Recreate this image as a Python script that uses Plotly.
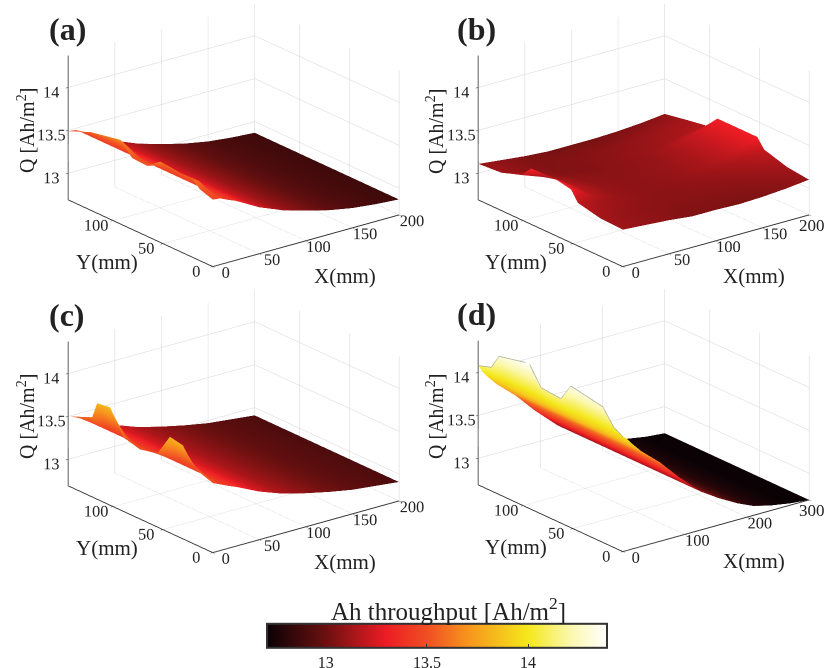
import plotly.graph_objects as go

# ---- data ----
x_abc = [0, 8, 16, 25, 50, 75, 100, 125, 150, 175, 200]
x_d = [0, 8, 16, 30, 60, 90, 127, 155, 185, 210, 237, 270, 300]

y_a = [0, 13, 21, 40, 53, 66, 81, 93, 123, 145]
edge_a = [13.47, 13.52, 13.61, 13.60, 13.63, 13.51, 13.52, 13.67, 13.60, 13.49]
mid_a = [13.46, 13.50, 13.55, 13.54, 13.56, 13.49, 13.50, 13.57, 13.54, 13.48]
tail_a = [13.42, 13.38, 13.23, 13.12, 13.04, 12.97, 12.92, 12.89, 12.87]

y_c = [0, 13, 23, 30, 43, 55, 73, 90, 96, 103, 116, 121, 145]
edge_c = [13.50, 13.55, 13.64, 13.78, 13.81, 13.56, 13.50, 13.55, 13.69, 13.83, 13.81, 13.62, 13.50]
mid_c = [13.46, 13.48, 13.52, 13.58, 13.60, 13.49, 13.46, 13.48, 13.54, 13.60, 13.58, 13.50, 13.47]
tail_c = [13.42, 13.38, 13.25, 13.15, 13.08, 13.02, 12.97, 12.94, 12.91]

y_d = [0, 9, 20, 52, 62, 82, 94, 124, 132, 145]
edge_d = [14.03, 14.09, 14.27, 14.34, 14.14, 14.16, 14.38, 14.30, 14.13, 14.08]
mid_d = [13.98, 14.00, 14.03, 14.05, 14.00, 14.00, 14.06, 14.04, 14.00, 13.98]
tail_d = [13.91, 13.80, 13.61, 13.38, 13.13, 13.00, 12.88, 12.80, 12.75, 12.71, 12.69]

x_b = [0, 25, 50, 75, 100, 125, 150, 175, 200]
y_b = [0, 22, 45, 52, 69, 92, 102, 122, 145]
q_b = [
    [13.12, 13.10, 13.08, 13.05, 13.05, 13.04, 13.05, 13.07, 13.10],
    [13.13, 13.10, 13.08, 13.07, 13.07, 13.07, 13.08, 13.10, 13.13],
    [13.19, 13.13, 13.10, 13.08, 13.08, 13.10, 13.12, 13.16, 13.21],
    [13.31, 13.16, 13.10, 13.08, 13.09, 13.11, 13.15, 13.22, 13.32],
    [13.35, 13.17, 13.10, 13.08, 13.09, 13.11, 13.15, 13.22, 13.32],
    [13.34, 13.14, 13.08, 13.07, 13.08, 13.10, 13.15, 13.22, 13.32],
    [13.21, 13.11, 13.06, 13.06, 13.08, 13.10, 13.12, 13.15, 13.18],
    [13.13, 13.08, 13.05, 13.06, 13.07, 13.08, 13.10, 13.12, 13.14],
    [13.11, 13.08, 13.05, 13.03, 13.03, 13.03, 13.04, 13.06, 13.09],
]

q_a = [[e, m] + tail_a for e, m in zip(edge_a, mid_a)]
q_c = [[e, m] + tail_c for e, m in zip(edge_c, mid_c)]
q_d = [[e, m] + tail_d for e, m in zip(edge_d, mid_d)]

ticks_xy_abc = [0, 50, 100, 150, 200]
ticks_x_d = [0, 100, 200, 300]
ticks_y = [0, 50, 100]
ticks_z = [13, 13.5, 14]
ticks_bar = [13, 13.5, 14]
panel_letters = ["(a)", "(b)", "(c)", "(d)"]

# ---- styling ----
W, H = 825, 668
SERIF = "Liberation Serif"
INK = "#222222"
colors = [
    [0.0, "#0a0205"], [0.173, "#6b1010"], [0.351, "#ed1c24"], [0.47, "#f04e23"],
    [0.59, "#f7941d"], [0.768, "#f4e81b"], [0.887, "#fbf7a8"], [1.0, "#ffffff"],
]
LIGHT = dict(ambient=1, diffuse=0, specular=0, roughness=1, fresnel=0)
R = 3.0
SCALE = 1.615
VIEW = (-0.572 * R, -0.738 * R, 0.358 * R)
SHIFT = (-0.0767, 0.0263, -0.0685)


def domain(px0, py0, px1, py1):
    return dict(x=[px0 / W, px1 / W], y=[1 - py1 / H, 1 - py0 / H])


def axis(rng, vals, hide_last=False):
    text = [str(v) for v in vals]
    if hide_last:
        text[-1] = " "
    return dict(
        range=rng, tickvals=vals, ticktext=text, title=dict(text=""),
        showbackground=False, showgrid=True, gridcolor="#d4d4d4", gridwidth=1,
        showline=True, linecolor="#333333", linewidth=2, ticks="outside", ticklen=3,
        tickcolor="#333333", tickfont=dict(family=SERIF, size=14, color=INK), tickangle=0,
        zeroline=False, showspikes=False,
    )


# px origin of each 3D box and the px window of its scene
origins = [(213, 267), (622, 267), (213, 553), (622, 552)]
windows = [(0, 0, 445, 292), (440, 0, 825, 292), (0, 286, 445, 578), (440, 285, 825, 577)]
panels = [
    (x_abc, y_a, q_a, 200, ticks_xy_abc, False),
    (x_b, y_b, q_b, 200, ticks_xy_abc, True),
    (x_abc, y_c, q_c, 200, ticks_xy_abc, False),
    (x_d, y_d, q_d, 300, ticks_x_d, True),
]

fig = go.Figure()
layout = {}
anns = []
for i, ((xs, ys, qs, xmax, xt, hide), (ox, oy), win) in enumerate(zip(panels, origins, windows)):
    name = "scene" if i == 0 else f"scene{i + 1}"
    fig.add_trace(go.Surface(x=xs, y=ys, z=qs, coloraxis="coloraxis", lighting=LIGHT,
                             hoverinfo="skip", scene=name))
    layout[name] = dict(
        domain=domain(*win),
        xaxis=axis([0, xmax], xt, hide), yaxis=axis([0, 145], ticks_y), zaxis=axis([12.69, 14.37], ticks_z),
        aspectmode="manual", aspectratio=dict(x=SCALE, y=SCALE, z=0.655 * SCALE),
        camera=dict(eye=dict(x=VIEW[0] + SHIFT[0], y=VIEW[1] + SHIFT[1], z=VIEW[2] + SHIFT[2]),
                    up=dict(x=0, y=0, z=1),
                    center=dict(x=SHIFT[0], y=SHIFT[1], z=SHIFT[2]),
                    projection=dict(type="orthographic")),
        bgcolor="rgba(0,0,0,0)",
    )
    common = dict(showarrow=False, xanchor="center", yanchor="middle")
    anns += [
        dict(x=(ox - 146) / W, y=1 - (oy - 238) / H, text=f"<b>{panel_letters[i]}</b>",
             font=dict(family=SERIF, size=32, color="#222222"), **common),
        dict(x=(ox - 187) / W, y=1 - (oy - 136) / H, text="Q [Ah/m<sup>2</sup>]", textangle=-90,
             font=dict(family=SERIF, size=20, color=INK), **common),
        dict(x=(ox + 132) / W, y=1 - (oy + 9) / H, text="X(mm)",
             font=dict(family=SERIF, size=21, color=INK), **common),
        dict(x=(ox - 106) / W, y=1 - (oy - 5) / H, text="Y(mm)",
             font=dict(family=SERIF, size=21, color=INK), **common),
    ]
    if hide:  # the last X label would be cut by the window edge if drawn by the scene
        anns.append(dict(x=(ox + 190) / W, y=1 - (oy - 41) / H, text=str(xt[-1]),
                         font=dict(family=SERIF, size=17, color=INK), **common))

fig.add_trace(go.Scatter3d(x=[0] * len(y_d), y=y_d, z=edge_d, mode="lines",
                           line=dict(color="#a8a890", width=1.5), hoverinfo="skip", scene="scene4"))

anns.append(dict(x=448 / W, y=1 - 609 / H, text="Ah throughput [Ah/m<sup>2</sup>]",
                 font=dict(family=SERIF, size=25, color=INK), showarrow=False,
                 xanchor="center", yanchor="middle"))

fig.update_layout(
    width=W, height=H, margin=dict(l=0, r=0, t=0, b=0, autoexpand=False), paper_bgcolor="white",
    showlegend=False, annotations=anns,
    coloraxis=dict(
        cmin=12.71, cmax=14.39, colorscale=colors,
        colorbar=dict(
            orientation="h", x=437 / W, xanchor="center", y=-0.0135, yanchor="bottom", ypad=0, xpad=0,
            len=340, lenmode="pixels", thickness=24, thicknessmode="pixels",
            tickvals=ticks_bar, ticktext=[str(v) for v in ticks_bar], ticks="inside", ticklen=4,
            tickcolor="#333333", outlinecolor="#333333", outlinewidth=2,
            tickfont=dict(family=SERIF, size=16, color=INK),
        ),
    ),
    **layout,
)
fig.write_html("out.html", post_script="document.body.style.margin='0';",
               config={"displayModeBar": False})
